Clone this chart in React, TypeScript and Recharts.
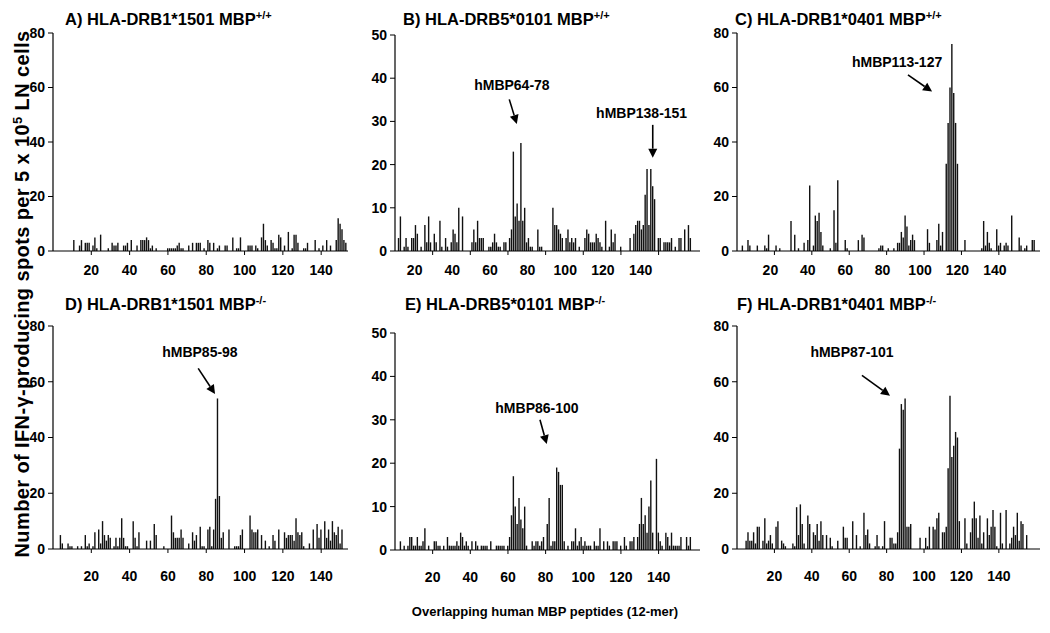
import React from "react";
import { BarChart, Bar, XAxis, YAxis, ReferenceLine, ReferenceDot } from "recharts";

// IFN-gamma spots per 5x10^5 LN cells, one value per overlapping 12-mer (peptide 1, 2, 3 ...)
const drb1501Wt = [
  0, 0, 0, 0, 0, 0, 0, 0, 0, 0, 4, 0, 0, 2, 4, 0, 3, 3, 3, 0,
  2, 5, 1, 0, 6, 0, 0, 0, 1, 0, 3, 2, 2, 3, 0, 0, 2, 2, 3, 0,
  4, 0, 0, 2, 0, 4, 4, 4, 5, 4, 1, 2, 0, 1, 0, 0, 0, 0, 0, 1,
  1, 1, 1, 1, 2, 3, 1, 1, 0, 0, 2, 0, 3, 0, 3, 3, 3, 0, 1, 0,
  4, 3, 0, 3, 0, 1, 2, 0, 0, 2, 2, 0, 0, 5, 0, 1, 1, 5, 0, 0,
  0, 2, 2, 2, 0, 2, 1, 0, 5, 10, 4, 2, 0, 4, 3, 1, 1, 6, 5, 0,
  2, 0, 7, 0, 1, 6, 6, 3, 0, 0, 1, 1, 3, 0, 0, 0, 4, 0, 1, 0,
  2, 0, 4, 0, 2, 0, 0, 4, 12, 10, 8, 4, 3, 0,
];
const drb5Wt = [
  0, 3, 8, 0, 1, 3, 1, 0, 3, 3, 6, 4, 0, 1, 0, 6, 2, 8, 2, 0,
  4, 2, 0, 7, 1, 0, 3, 1, 0, 2, 5, 4, 2, 10, 0, 8, 0, 0, 0, 0,
  2, 5, 2, 7, 3, 3, 3, 0, 0, 1, 1, 2, 4, 2, 1, 1, 0, 2, 2, 0,
  3, 5, 23, 8, 11, 7, 25, 7, 10, 2, 3, 1, 1, 0, 0, 5, 1, 1, 0, 0,
  0, 0, 0, 10, 6, 6, 5, 4, 3, 0, 3, 5, 2, 3, 2, 3, 0, 1, 0, 0,
  3, 5, 4, 2, 2, 2, 4, 3, 2, 1, 0, 7, 0, 1, 5, 2, 4, 0, 0, 1,
  0, 0, 0, 0, 3, 0, 4, 6, 7, 7, 5, 6, 13, 19, 6, 19, 15, 12, 0, 3,
  3, 0, 2, 2, 2, 2, 3, 0, 1, 0, 3, 3, 0, 5, 0, 6, 3,
];
const drb0401Wt = [
  0, 0, 2, 0, 0, 4, 2, 0, 0, 0, 2, 0, 0, 0, 2, 1, 6, 0, 0, 0,
  2, 0, 1, 0, 0, 0, 0, 0, 11, 0, 6, 0, 1, 0, 0, 3, 0, 4, 24, 0,
  2, 13, 11, 14, 7, 2, 0, 0, 0, 1, 0, 15, 3, 26, 0, 0, 0, 4, 1, 0,
  0, 0, 0, 0, 4, 0, 6, 5, 0, 0, 0, 0, 0, 0, 0, 1, 2, 2, 0, 0,
  1, 0, 0, 1, 0, 3, 3, 7, 5, 13, 9, 2, 4, 6, 4, 0, 0, 0, 0, 0,
  0, 8, 3, 0, 0, 0, 4, 10, 2, 7, 0, 32, 47, 60, 76, 58, 47, 32, 0, 0,
  0, 4, 0, 0, 0, 0, 0, 0, 0, 0, 1, 11, 2, 7, 3, 1, 0, 0, 8, 2,
  3, 0, 2, 3, 2, 0, 13, 0, 0, 0, 5, 2, 0, 1, 2, 0, 0, 4, 4,
];
const drb1501Ko = [
  0, 0, 0, 5, 2, 0, 0, 2, 1, 1, 0, 0, 1, 0, 1, 0, 5, 1, 2, 0,
  1, 6, 0, 7, 2, 10, 5, 3, 5, 4, 0, 1, 4, 1, 4, 11, 4, 1, 1, 0,
  0, 10, 4, 1, 6, 0, 0, 0, 3, 0, 3, 0, 9, 5, 0, 0, 0, 1, 0, 0,
  0, 12, 6, 4, 4, 4, 7, 4, 0, 0, 2, 0, 6, 3, 5, 0, 8, 1, 1, 0,
  7, 8, 1, 7, 18, 54, 19, 4, 6, 0, 0, 7, 0, 0, 1, 1, 1, 5, 7, 0,
  0, 0, 12, 7, 6, 6, 7, 0, 5, 0, 3, 0, 1, 0, 5, 3, 0, 7, 0, 0,
  6, 4, 5, 5, 5, 3, 11, 6, 5, 6, 1, 0, 0, 2, 0, 7, 0, 9, 4, 7,
  0, 10, 4, 7, 3, 10, 6, 5, 8, 2, 7, 0,
];
const drb5Ko = [
  0, 0, 2, 0, 1, 0, 1, 3, 3, 1, 1, 3, 1, 1, 2, 5, 0, 1, 0, 0,
  2, 2, 1, 1, 0, 1, 0, 3, 1, 1, 1, 1, 2, 1, 4, 3, 1, 2, 1, 0,
  2, 0, 2, 1, 0, 1, 1, 1, 1, 0, 2, 0, 0, 1, 1, 1, 1, 1, 0, 1,
  3, 8, 17, 10, 6, 12, 7, 5, 10, 1, 0, 0, 2, 1, 2, 2, 1, 2, 3, 0,
  6, 12, 1, 2, 2, 19, 18, 15, 15, 2, 0, 1, 0, 2, 2, 5, 1, 2, 3, 1,
  2, 1, 1, 1, 0, 2, 1, 1, 5, 0, 2, 0, 2, 1, 0, 2, 2, 2, 0, 1,
  0, 3, 1, 0, 2, 2, 3, 0, 3, 6, 12, 6, 8, 4, 10, 16, 4, 0, 21, 4,
  2, 1, 0, 4, 3, 1, 4, 1, 1, 1, 1, 3, 0, 0, 3, 1, 3,
];
const drb0401Ko = [
  0, 0, 0, 0, 3, 6, 3, 3, 6, 2, 8, 8, 0, 3, 11, 2, 3, 5, 2, 0,
  8, 10, 0, 3, 2, 1, 0, 0, 0, 2, 1, 15, 5, 16, 9, 2, 0, 12, 9, 0,
  6, 5, 9, 3, 10, 5, 0, 5, 0, 4, 1, 0, 0, 3, 0, 0, 8, 4, 4, 0,
  0, 10, 0, 5, 0, 1, 0, 13, 5, 7, 2, 0, 0, 1, 5, 1, 0, 1, 10, 0,
  0, 4, 4, 2, 2, 6, 36, 52, 50, 54, 8, 8, 9, 0, 0, 0, 0, 4, 0, 0,
  4, 1, 8, 0, 8, 7, 11, 13, 0, 6, 6, 8, 29, 55, 33, 37, 42, 40, 10, 0,
  0, 11, 2, 0, 6, 11, 17, 11, 4, 12, 2, 6, 0, 11, 5, 8, 14, 8, 1, 0,
  13, 2, 0, 14, 0, 2, 4, 8, 5, 13, 3, 10, 9, 0, 5,
];

const xTicks = [20, 40, 60, 80, 100, 120, 140];
const ticks80 = [0, 20, 40, 60, 80];
const ticks50 = [0, 10, 20, 30, 40, 50];

const FONT = '"Liberation Sans", Arial, Helvetica, sans-serif';

type Note = { text: string; at: [number, number]; from: [number, number]; to: [number, number] };

type Panel = {
  title: string;
  sup: string;
  values: number[];
  left: number;
  right: number;
  top: number;
  bottom: number;
  xMax: number;
  yTicks: number[];
  labelDx: number;
  labelGap: number;
  titleX: number;
  titleY: number;
  notes: Note[];
};

const panels: Panel[] = [
  { title: "A) HLA-DRB1*1501 MBP", sup: "+/+", values: drb1501Wt, left: 53, right: 348, top: 33, bottom: 251, xMax: 154, yTicks: ticks80, labelDx: 0, labelGap: 10, titleX: 65, titleY: 5, notes: [] },
  {
    title: "B) HLA-DRB5*0101 MBP", sup: "+/+", values: drb5Wt, left: 395, right: 700, top: 35, bottom: 251, xMax: 162, yTicks: ticks50, labelDx: -18, labelGap: 10, titleX: 403, titleY: 5,
    notes: [
      { text: "hMBP64-78", at: [62.1, 38.4], from: [60.7, 35.1], to: [64.7, 29.4] },
      { text: "hMBP138-151", at: [131, 31.9], from: [136.9, 29.2], to: [136.9, 21.6] },
    ],
  },
  {
    title: "C) HLA-DRB1*0401 MBP", sup: "+/+", values: drb0401Wt, left: 737, right: 1040, top: 33, bottom: 251, xMax: 162, yTicks: ticks80, labelDx: -4, labelGap: 10, titleX: 735, titleY: 5,
    notes: [{ text: "hMBP113-127", at: [85.6, 69.4], from: [91.4, 64.6], to: [104.3, 58.5] }],
  },
  {
    title: "D) HLA-DRB1*1501 MBP", sup: "-/-", values: drb1501Ko, left: 53, right: 348, top: 326, bottom: 549, xMax: 154, yTicks: ticks80, labelDx: 0, labelGap: 18, titleX: 65, titleY: 290,
    notes: [{ text: "hMBP85-98", at: [76.7, 70.6], from: [75.8, 64.8], to: [84.6, 55.6] }],
  },
  {
    title: "E) HLA-DRB5*0101 MBP", sup: "-/-", values: drb5Ko, left: 395, right: 700, top: 333, bottom: 550, xMax: 162, yTicks: ticks50, labelDx: 0, labelGap: 18, titleX: 405, titleY: 290,
    notes: [{ text: "hMBP86-100", at: [75.4, 32.7], from: [77, 30], to: [80.6, 24.4] }],
  },
  {
    title: "F) HLA-DRB1*0401 MBP", sup: "-/-", values: drb0401Ko, left: 737, right: 1040, top: 326, bottom: 549, xMax: 162, yTicks: ticks80, labelDx: 0, labelGap: 18, titleX: 737, titleY: 290,
    notes: [{ text: "hMBP87-101", at: [61.5, 70.6], from: [66.8, 62.3], to: [81.8, 55] }],
  },
];

const arrowShape = (props: any) => {
  const { x1, y1, x2, y2 } = props;
  const dx = x2 - x1;
  const dy = y2 - y1;
  const len = Math.hypot(dx, dy) || 1;
  const ux = dx / len;
  const uy = dy / len;
  const hl = 9;
  const hw = 4.5;
  const bx = x2 - ux * hl;
  const by = y2 - uy * hl;
  return (
    <g>
      <line x1={x1} y1={y1} x2={bx} y2={by} stroke="#000" strokeWidth={1.6} />
      <polygon
        points={`${x2},${y2} ${bx - uy * hw},${by + ux * hw} ${bx + uy * hw},${by - ux * hw}`}
        fill="#000"
      />
    </g>
  );
};

const noteText = (text: string) => (props: any) => (
  <text x={props.cx} y={props.cy} textAnchor="middle" dominantBaseline="central" fontSize={14} fontWeight="bold" fill="#000">
    {text}
  </text>
);

const tickStyle = { fontSize: 14, fontWeight: "bold", fill: "#000" };

function PanelChart({ panel }: { panel: Panel }) {
  const data = panel.values.map((v, i) => ({ p: i + 1, v }));
  const yMax = panel.yTicks[panel.yTicks.length - 1];
  const yw = 40;
  const width = panel.right - panel.left + yw + 4;
  const height = panel.bottom - panel.top + 10 + 40;
  return (
    <>
      <div
        style={{
          position: "absolute",
          left: panel.titleX,
          top: panel.titleY,
          fontSize: 16.5,
          fontWeight: "bold",
          whiteSpace: "nowrap",
          lineHeight: "20px",
        }}
      >
        {panel.title}
        <sup style={{ fontSize: 11, verticalAlign: "6px" }}>{panel.sup}</sup>
      </div>
      <div style={{ position: "absolute", left: panel.left - yw, top: panel.top - 10 }}>
        <BarChart width={width} height={height} data={data} margin={{ top: 10, right: 4, left: 0, bottom: 0 }}>
          <XAxis
            dataKey="p"
            type="number"
            domain={[0, panel.xMax]}
            ticks={xTicks}
            allowDataOverflow
            height={40}
            tickSize={4}
            tickMargin={panel.labelGap}
            tick={{ ...tickStyle, dx: panel.labelDx }}
            stroke="#000"
            axisLine={{ stroke: "#000", strokeWidth: 1.2 }}
            tickLine={{ stroke: "#000" }}
          />
          <YAxis
            type="number"
            domain={[0, yMax]}
            ticks={panel.yTicks}
            allowDataOverflow
            width={yw}
            tickSize={5}
            tickMargin={3}
            tick={tickStyle}
            stroke="#000"
            axisLine={{ stroke: "#000", strokeWidth: 1.2 }}
            tickLine={{ stroke: "#000" }}
          />
          <Bar dataKey="v" fill="#111" barSize={1.4} isAnimationActive={false} />
          {panel.notes.map((n) => (
            <ReferenceLine
              key={n.text + "-arrow"}
              segment={[{ x: n.from[0], y: n.from[1] }, { x: n.to[0], y: n.to[1] }]}
              ifOverflow="visible"
              shape={arrowShape}
            />
          ))}
          {panel.notes.map((n) => (
            <ReferenceDot
              key={n.text}
              x={n.at[0]}
              y={n.at[1]}
              r={0}
              ifOverflow="visible"
              shape={noteText(n.text)}
            />
          ))}
        </BarChart>
      </div>
    </>
  );
}

export default function App() {
  return (
    <div
      style={{
        position: "absolute",
        left: 0,
        top: 0,
        width: 1050,
        height: 633,
        background: "#fff",
        fontFamily: FONT,
        color: "#000",
      }}
    >
      {panels.map((p) => (
        <PanelChart key={p.title + p.sup} panel={p} />
      ))}
      <div
        style={{
          position: "absolute",
          left: 18 - 300,
          top: 294 - 12,
          width: 600,
          height: 24,
          lineHeight: "24px",
          textAlign: "center",
          transform: "rotate(-90deg)",
          transformOrigin: "center",
          fontSize: 20,
          fontWeight: "bold",
          letterSpacing: 0.4,
          whiteSpace: "nowrap",
        }}
      >
        Number of IFN-γ-producing spots per 5 x 10<sup style={{ fontSize: 13, verticalAlign: "7px" }}>5</sup> LN cells
      </div>
      <div
        style={{
          position: "absolute",
          left: 345,
          top: 604,
          width: 400,
          textAlign: "center",
          fontSize: 13,
          fontWeight: "bold",
          whiteSpace: "nowrap",
        }}
      >
        Overlapping human MBP peptides (12-mer)
      </div>
    </div>
  );
}
